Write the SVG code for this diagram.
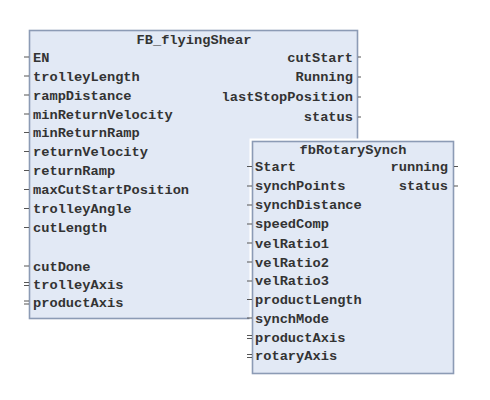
<svg xmlns="http://www.w3.org/2000/svg" width="490" height="400" viewBox="0 0 490 400">
<style>
.box{fill:#e2e9f5;stroke:#8c9bb5;stroke-width:1.6}
.t{font-family:"Liberation Mono","Courier New",monospace;font-weight:bold;font-size:13.7px;fill:#333}
.e{text-anchor:end}
.m{text-anchor:middle}
.pin{stroke:#555;stroke-width:1.2;fill:none}
</style>
<rect width="490" height="400" fill="#fff"/>
<g id="FB_flyingShear">
<rect class="box" x="29.5" y="30.5" width="328" height="288"/>
<text class="t m" x="194" y="44">FB_flyingShear</text>
<text class="t" x="33" y="61.5">EN</text>
<text class="t" x="33" y="80.5">trolleyLength</text>
<text class="t" x="33" y="99.5">rampDistance</text>
<text class="t" x="33" y="118.5">minReturnVelocity</text>
<text class="t" x="33" y="137">minReturnRamp</text>
<text class="t" x="33" y="156">returnVelocity</text>
<text class="t" x="33" y="175">returnRamp</text>
<text class="t" x="33" y="194">maxCutStartPosition</text>
<text class="t" x="33" y="213">trolleyAngle</text>
<text class="t" x="33" y="232">cutLength</text>
<text class="t" x="33" y="270.5">cutDone</text>
<text class="t" x="33" y="288.5">trolleyAxis</text>
<text class="t" x="33" y="307">productAxis</text>
<text class="t e" x="353" y="61.5">cutStart</text>
<text class="t e" x="353" y="81">Running</text>
<text class="t e" x="353" y="101">lastStopPosition</text>
<text class="t e" x="353" y="121">status</text>
</g>
<g id="fbRotarySynch">
<rect x="249.5" y="138.5" width="207" height="237" fill="#fff"/>
<rect class="box" x="252.5" y="141.5" width="201" height="232"/>
<text class="t m" x="353" y="153.5">fbRotarySynch</text>
<text class="t" x="255" y="171">Start</text>
<text class="t" x="255" y="190">synchPoints</text>
<text class="t" x="255" y="209">synchDistance</text>
<text class="t" x="255" y="228">speedComp</text>
<text class="t" x="255" y="247.5">velRatio1</text>
<text class="t" x="255" y="266.5">velRatio2</text>
<text class="t" x="255" y="285">velRatio3</text>
<text class="t" x="255" y="303.5">productLength</text>
<text class="t" x="255" y="322.5">synchMode</text>
<text class="t" x="255" y="341.5">productAxis</text>
<text class="t" x="255" y="360">rotaryAxis</text>
<text class="t e" x="448" y="171">running</text>
<text class="t e" x="448" y="190">status</text>
</g>
<g id="connectors" class="pin">
<path d="M24 57H29M24 76H29M24 95H29M24 114H29M24 132.5H29M24 151.5H29M24 170.5H29M24 189.5H29M24 208.5H29M24 227.5H29M24 266H29"/>
<path d="M24 282.5H29M24 285.5H29M24 301H29M24 304H29"/>
<path d="M358 57H361M358 77H361M358 97H361M358 117H361"/>
<path d="M247 166.5H252M247 186H252M247 205H252M247 224H252M247 243H252M247 262H252M247 281H252M247 299.5H252M247 318H252"/>
<path d="M247 335.5H252M247 338.5H252M247 354.5H252M247 357.5H252"/>
<path d="M454 166.5H458M454 186H458"/>
</g>
</svg>
